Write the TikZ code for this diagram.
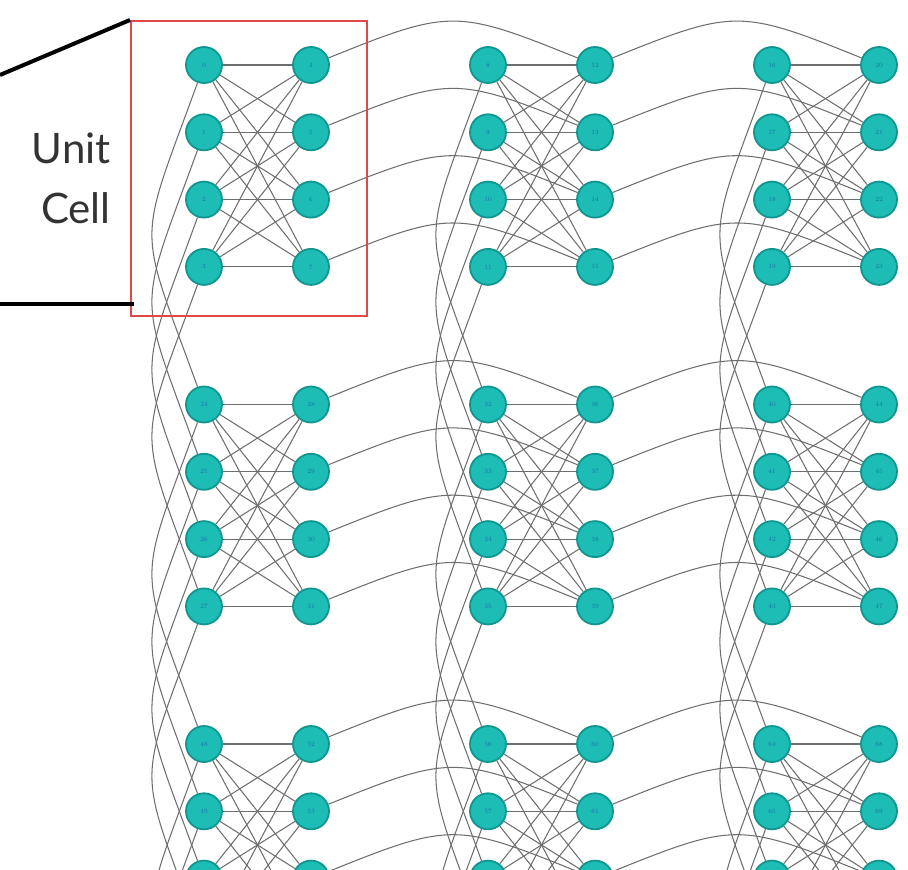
\documentclass[tikz,border=0pt]{standalone}
\usepackage{fontspec}
\newfontfamily\labelfont{Lato}
\usetikzlibrary{backgrounds}
\definecolor{nodefill}{HTML}{1DBDB6}
\definecolor{nodeborder}{HTML}{10968F}
\definecolor{labelblue}{HTML}{1A6FA8}
\definecolor{edgegray}{HTML}{6E6E6E}
\definecolor{boxred}{HTML}{E04848}
\definecolor{textgray}{HTML}{333333}
\tikzset{
  qubit/.style={circle, minimum size=36pt, inner sep=0pt, fill=nodefill, draw=nodeborder, line width=1.8pt, text=labelblue, font=\fontsize{6.5}{6.5}\selectfont},
  coupler/.style={draw=edgegray, line width=1.05pt},
  vcoupler/.style={coupler, out=250, in=110, looseness=1.5},
  hcoupler/.style={coupler, out=22, in=158, looseness=1.35},
  cellframe/.style={draw=boxred, line width=1.6pt, inner sep=0pt, minimum width=236pt, minimum height=295pt, anchor=north west},
  pointer/.style={draw=black, line width=4pt},
}
\begin{document}
\begin{tikzpicture}[x=1pt, y=-1pt]
\useasboundingbox (0,0) rectangle (908,870);
\clip (0,0) rectangle (908,870);
% nodes
\foreach \r in {0,1,2,3}{
  \foreach \c in {0,1,2}{
    \foreach \i in {0,1,2,3}{
      \pgfmathtruncatemacro{\L}{24*\r+8*\c+\i}
      \pgfmathtruncatemacro{\R}{\L+4}
      \pgfmathsetmacro{\xl}{204+284*\c}
      \pgfmathsetmacro{\xr}{311+284*\c}
      \pgfmathsetmacro{\yy}{65+339.5*\r+67.3*\i}
      \pgfmathtruncatemacro{\inside}{\yy<860 ? 1 : 0}
      \ifnum\inside=1
        \node[qubit] (n\L) at (\xl,\yy) {\L};
        \node[qubit] (n\R) at (\xr,\yy) {\R};
      \else
        \node[qubit] (n\L) at (\xl,\yy) {};
        \node[qubit] (n\R) at (\xr,\yy) {};
      \fi
    }
  }
}
\begin{pgfonlayer}{background}
\clip (0,0) rectangle (908,870);
\foreach \r in {0,1,2,3}{
  \foreach \c in {0,1,2}{
    \foreach \i in {0,1,2,3}{
      \foreach \j in {0,1,2,3}{
        \pgfmathtruncatemacro{\L}{24*\r+8*\c+\i}
        \pgfmathtruncatemacro{\R}{24*\r+8*\c+4+\j}
        \draw[coupler] (n\L) -- (n\R);
      }
    }
  }
}
% vertical couplers
\foreach \r in {0,1,2}{
  \foreach \c in {0,1,2}{
    \foreach \i in {0,1,2,3}{
      \pgfmathtruncatemacro{\A}{24*\r+8*\c+\i}
      \pgfmathtruncatemacro{\B}{\A+24}
      \draw[vcoupler] (n\A) to (n\B);
    }
  }
}
% horizontal couplers
\foreach \r in {0,1,2}{
  \foreach \c in {0,1}{
    \foreach \j in {0,1,2,3}{
      \pgfmathtruncatemacro{\A}{24*\r+8*\c+4+\j}
      \pgfmathtruncatemacro{\B}{\A+8}
      \draw[hcoupler] (n\A) to (n\B);
    }
  }
}
\end{pgfonlayer}
% unit cell frame and label
\node[cellframe] (cellbox) at (130,20) {};
\coordinate (upperstart) at (0,75);
\coordinate (lowerstart) at (0,304);
\coordinate (lowerend) at (134,304);
\draw[pointer] (upperstart) -- (cellbox.north west);
\draw[pointer] (lowerstart) -- (lowerend);
\node[align=right, anchor=east, text=textgray, font=\labelfont\fontsize{42}{60}\selectfont, inner sep=0pt] (celllabel) at (111,178) {Unit\\Cell};
\end{tikzpicture}
\end{document}
